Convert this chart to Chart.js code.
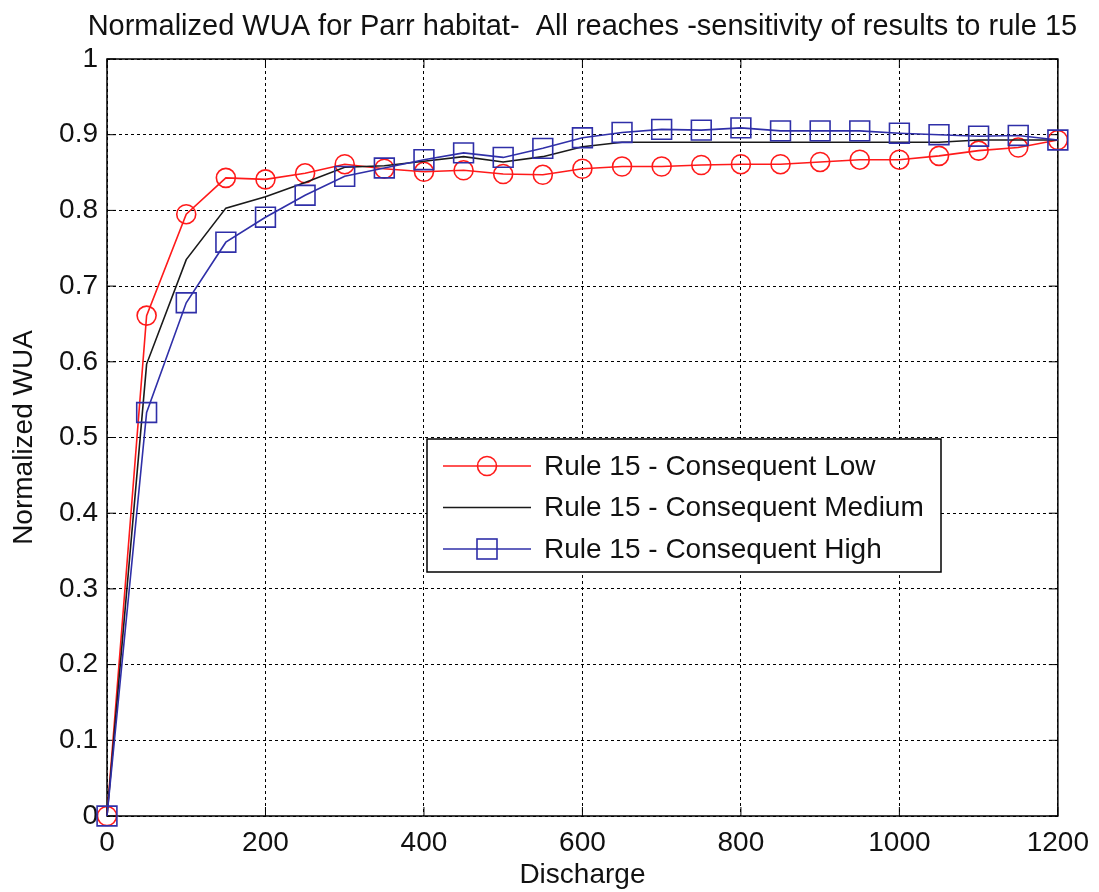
<!DOCTYPE html>
<html>
<head>
<meta charset="utf-8">
<script src="https://cdn.jsdelivr.net/npm/chart.js@4.4.1/dist/chart.umd.min.js"></script>
<style>
  html, body { margin: 0; padding: 0; background: #fff; }
  #wrap { width: 1099px; height: 892px; }
</style>
</head>
<body>
<div id="wrap"><canvas id="wuaChart"></canvas></div>
<script>
// discharge values (x)
const discharge = [0, 50, 100, 150, 200, 250, 300, 350, 400, 450, 500, 550, 600,
  650, 700, 750, 800, 850, 900, 950, 1000, 1050, 1100, 1150, 1200];

const wuaLow = [0, 0.661, 0.795, 0.843, 0.841, 0.849, 0.861, 0.855, 0.851, 0.853, 0.848, 0.847, 0.855,
  0.858, 0.858, 0.860, 0.861, 0.861, 0.864, 0.867, 0.867, 0.872, 0.879, 0.883, 0.893];
const wuaMedium = [0, 0.597, 0.735, 0.803, 0.818, 0.837, 0.857, 0.859, 0.865, 0.871, 0.864, 0.871, 0.884,
  0.890, 0.890, 0.890, 0.890, 0.890, 0.890, 0.890, 0.890, 0.890, 0.893, 0.893, 0.893];
const wuaHigh = [0, 0.533, 0.678, 0.758, 0.791, 0.820, 0.845, 0.856, 0.867, 0.876, 0.870, 0.882, 0.896,
  0.903, 0.907, 0.906, 0.909, 0.905, 0.905, 0.905, 0.902, 0.900, 0.898, 0.899, 0.893];

const seriesNames = ['Rule 15 - Consequent Low', 'Rule 15 - Consequent Medium', 'Rule 15 - Consequent High'];
const chartTitle = 'Normalized WUA for Parr habitat-  All reaches -sensitivity of results to rule 15';
const xTicks = [0, 200, 400, 600, 800, 1000, 1200];
const yTicks = [0, 0.1, 0.2, 0.3, 0.4, 0.5, 0.6, 0.7, 0.8, 0.9, 1];

const RED = '#ff1a1a';
const BLACK = '#1a1a1a';
const BLUE = '#2f2fa8';
const FONT = "'Liberation Sans', Arial, Helvetica, sans-serif";

const toPoints = arr => arr.map((v, i) => ({x: discharge[i], y: v}));

// MATLAB style box + inward ticks, title centred over the axes
const framePlugin = {
  id: 'frame',
  beforeDatasetsDraw(chart) {
    const {ctx, chartArea: a, scales: {x, y}} = chart;
    ctx.save();
    ctx.strokeStyle = '#000';
    ctx.lineWidth = 1.5;
    ctx.strokeRect(a.left, a.top, a.right - a.left, a.bottom - a.top);
    ctx.lineWidth = 1;
    ctx.beginPath();
    xTicks.forEach(t => {
      const px = x.getPixelForValue(t);
      ctx.moveTo(px, a.bottom); ctx.lineTo(px, a.bottom - 9);
      ctx.moveTo(px, a.top); ctx.lineTo(px, a.top + 9);
    });
    yTicks.forEach(t => {
      const py = y.getPixelForValue(t);
      ctx.moveTo(a.left, py); ctx.lineTo(a.left + 9, py);
      ctx.moveTo(a.right, py); ctx.lineTo(a.right - 9, py);
    });
    ctx.stroke();

    ctx.fillStyle = '#111';
    ctx.font = '29px ' + FONT;
    ctx.textAlign = 'center';
    ctx.textBaseline = 'alphabetic';
    ctx.fillText(chartTitle, (a.left + a.right) / 2, 35);
    ctx.restore();
  }
};

// legend box inside the plot
const legendPlugin = {
  id: 'boxLegend',
  afterDraw(chart) {
    const {ctx} = chart;
    const bx = 427, by = 439, bw = 514, bh = 133;
    ctx.save();
    ctx.fillStyle = '#fff';
    ctx.fillRect(bx, by, bw, bh);
    ctx.strokeStyle = '#000';
    ctx.lineWidth = 1.5;
    ctx.strokeRect(bx, by, bw, bh);
    const rows = [
      {label: seriesNames[0], color: RED, marker: 'circle'},
      {label: seriesNames[1], color: BLACK, marker: null},
      {label: seriesNames[2], color: BLUE, marker: 'square'}
    ];
    ctx.font = '28px ' + FONT;
    ctx.textBaseline = 'middle';
    rows.forEach((r, i) => {
      const cy = by + 27 + i * 41.5;
      ctx.strokeStyle = r.color;
      ctx.lineWidth = 1.6;
      ctx.beginPath();
      ctx.moveTo(bx + 16, cy); ctx.lineTo(bx + 104, cy);
      ctx.stroke();
      if (r.marker === 'circle') {
        ctx.beginPath();
        ctx.arc(bx + 60, cy, 9.5, 0, Math.PI * 2);
        ctx.stroke();
      } else if (r.marker === 'square') {
        ctx.strokeRect(bx + 50, cy - 10, 20, 20);
      }
      ctx.fillStyle = '#111';
      ctx.fillText(r.label, bx + 117, cy + 1);
    });
    ctx.restore();
  }
};

const ctx = document.getElementById('wuaChart').getContext('2d');
new Chart(ctx, {
  type: 'line',
  data: {
    datasets: [
      {
        label: seriesNames[0],
        data: toPoints(wuaLow),
        borderColor: RED,
        borderWidth: 1.6,
        pointStyle: 'circle',
        pointRadius: 9.5,
        pointBorderColor: RED,
        pointBackgroundColor: 'rgba(0,0,0,0)',
        pointBorderWidth: 1.6,
        order: 3
      },
      {
        label: seriesNames[1],
        data: toPoints(wuaMedium),
        borderColor: BLACK,
        borderWidth: 1.6,
        pointRadius: 0,
        order: 2
      },
      {
        label: seriesNames[2],
        data: toPoints(wuaHigh),
        borderColor: BLUE,
        borderWidth: 1.6,
        pointStyle: 'rect',
        pointRadius: 14,
        pointBorderColor: BLUE,
        pointBackgroundColor: 'rgba(0,0,0,0)',
        pointBorderWidth: 1.6,
        order: 1
      }
    ]
  },
  options: {
    responsive: true,
    maintainAspectRatio: false,
    animation: false,
    clip: false,
    layout: { padding: { left: 0, right: 31, top: 59, bottom: 0 } },
    elements: { line: { tension: 0 } },
    plugins: {
      legend: { display: false },
      tooltip: { enabled: false },
      title: { display: false }
    },
    scales: {
      x: {
        type: 'linear',
        min: 0,
        max: 1200,
        afterFit(s) { s.height = 76; },
        afterBuildTicks(s) { s.ticks = xTicks.map(v => ({value: v})); },
        grid: { color: '#000', lineWidth: 1, drawTicks: false },
        border: { display: false, dash: [3, 3] },
        ticks: {
          color: '#111',
          padding: 10,
          font: { family: FONT, size: 28 },
          callback: v => String(v)
        },
        title: {
          display: true,
          text: 'Discharge',
          color: '#111',
          font: { family: FONT, size: 28 },
          padding: { top: 0, bottom: 0 }
        }
      },
      y: {
        type: 'linear',
        min: 0,
        max: 1,
        afterFit(s) { s.width = 107; },
        afterBuildTicks(s) { s.ticks = yTicks.map(v => ({value: v})); },
        grid: { color: '#000', lineWidth: 1, drawTicks: false },
        border: { display: false, dash: [3, 3] },
        ticks: {
          color: '#111',
          padding: 9,
          font: { family: FONT, size: 28 },
          callback: v => String(Math.round(v * 10) / 10)
        },
        title: {
          display: true,
          text: 'Normalized WUA',
          color: '#111',
          font: { family: FONT, size: 28 },
          padding: { top: 7, bottom: 0 }
        }
      }
    }
  },
  plugins: [framePlugin, legendPlugin]
});
</script>
</body>
</html>
